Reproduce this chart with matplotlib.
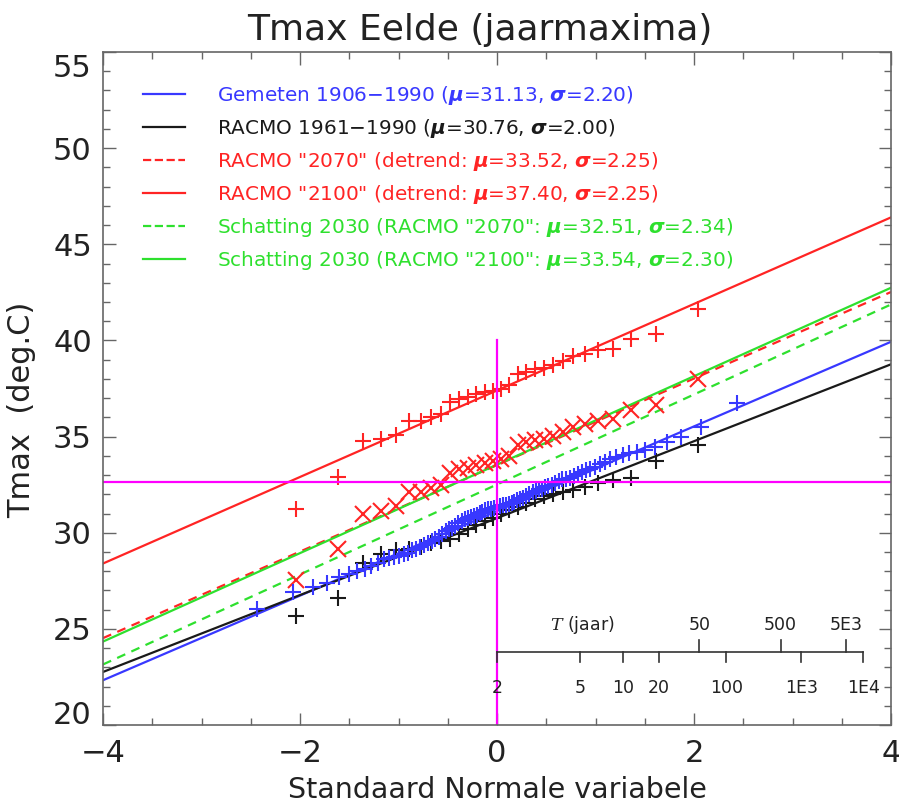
import numpy as np
import matplotlib
matplotlib.use("Agg")
import matplotlib.pyplot as plt
import matplotlib.transforms as mtransforms
from matplotlib.lines import Line2D
from statistics import NormalDist

# jaarmaxima, gesorteerd
gemeten = [26.05, 26.91, 27.19, 27.38, 27.71, 27.85, 27.99, 28.14, 28.28, 28.42,
           28.61, 28.70, 28.75, 28.80, 28.89, 28.94, 29.08, 29.18, 29.27, 29.37,
           29.46, 29.55, 29.65, 29.79, 29.93, 30.08, 30.17, 30.26, 30.36, 30.50,
           30.60, 30.69, 30.78, 30.83, 30.88, 30.93, 31.02, 31.07, 31.16, 31.21,
           31.26, 31.30, 31.35, 31.40, 31.43, 31.45, 31.49, 31.54, 31.59, 31.68,
           31.78, 31.83, 31.92, 32.01, 32.11, 32.16, 32.25, 32.30, 32.39, 32.44,
           32.49, 32.58, 32.68, 32.77, 32.82, 32.87, 32.96, 33.05, 33.15, 33.24,
           33.34, 33.43, 33.58, 33.67, 33.81, 33.95, 34.05, 34.14, 34.19, 34.28,
           34.47, 34.71, 34.99, 35.51, 36.74]
racmo_nu = [25.68, 26.62, 28.42, 28.89, 29.08, 29.18, 29.27, 29.46, 29.55, 29.65,
            29.93, 30.22, 30.41, 30.60, 30.78, 30.97, 31.16, 31.35, 31.54, 31.73,
            31.92, 32.01, 32.11, 32.20, 32.39, 32.58, 32.72, 32.87, 33.72, 34.57]
racmo_2070 = [27.52, 29.18, 30.97, 31.11, 31.40, 32.11, 32.11, 32.35, 32.49, 33.10,
              33.29, 33.39, 33.53, 33.62, 33.72, 33.81, 34.00, 34.57, 34.71, 34.80,
              34.90, 35.04, 35.23, 35.51, 35.66, 35.80, 35.89, 36.36, 36.65, 37.97]
racmo_2100 = [31.26, 32.91, 34.76, 34.85, 35.09, 35.80, 35.80, 36.03, 36.18, 36.79,
              36.98, 37.07, 37.22, 37.31, 37.36, 37.50, 37.69, 38.26, 38.35, 38.49,
              38.59, 38.73, 38.92, 39.20, 39.30, 39.49, 39.58, 40.06, 40.34, 41.66]

# fits (mu, sigma) uit de legenda
namen = ['Gemeten 1906$-$1990 ($\\boldsymbol{\\mu}$=31.13, $\\boldsymbol{\\sigma}$=2.20)',
         'RACMO 1961$-$1990 ($\\boldsymbol{\\mu}$=30.76, $\\boldsymbol{\\sigma}$=2.00)',
         'RACMO "2070" (detrend: $\\boldsymbol{\\mu}$=33.52, $\\boldsymbol{\\sigma}$=2.25)',
         'RACMO "2100" (detrend: $\\boldsymbol{\\mu}$=37.40, $\\boldsymbol{\\sigma}$=2.25)',
         'Schatting 2030 (RACMO "2070": $\\boldsymbol{\\mu}$=32.51, $\\boldsymbol{\\sigma}$=2.34)',
         'Schatting 2030 (RACMO "2100": $\\boldsymbol{\\mu}$=33.54, $\\boldsymbol{\\sigma}$=2.30)']
mu = [31.13, 30.76, 33.52, 37.40, 32.51, 33.54]
sigma = [2.20, 2.00, 2.25, 2.25, 2.34, 2.30]
kleuren = ['#3838ff', '#1a1a1a', '#ff2424', '#ff2424', '#2ee02e', '#2ee02e']
stijlen = ['-', '-', '--', '-', '--', '-']

# terugkeertijden
T_onder = [2, 5, 10, 20, 100, 1000, 10000]
T_onder_lab = ['2', '5', '10', '20', '100', '1E3', '1E4']
T_boven = [50, 500, 5000]
T_boven_lab = ['50', '500', '5E3']

drempel = 32.65
nd = NormalDist()


def blom(n):
    # plotposities (Blom) op standaard normale schaal
    return np.array([nd.inv_cdf((i - 0.375) / (n + 0.25)) for i in range(1, n + 1)])


def z_T(T):
    return nd.inv_cdf(1 - 1 / T)


plt.rcParams['font.family'] = ['DejaVu Sans']
fig = plt.figure(figsize=(8.99, 8.10), dpi=100)
ax = fig.add_axes([0.1146, 0.1049, 0.8765, 0.8309])

xl = np.array([-4, 4])
for m, s, c, ls in zip(mu, sigma, kleuren, stijlen):
    ax.plot(xl, m + s * xl, color=c, ls=ls, lw=1.6, dashes=(4, 3) if ls == '--' else (None, None))

ax.plot(blom(len(racmo_nu)), racmo_nu, '+', color=kleuren[1], ms=12, mew=1.5)
ax.plot(blom(len(racmo_2070)), racmo_2070, 'x', color=kleuren[2], ms=11, mew=1.5)
ax.plot(blom(len(racmo_2100)), racmo_2100, '+', color=kleuren[3], ms=12, mew=1.5)
ax.plot(blom(len(gemeten)), gemeten, '+', color=kleuren[0], ms=12, mew=1.5)

ax.axhline(drempel, color='#ff00ff', lw=1.6)
ax.plot([0, 0], [20, 40.0], color='#ff00ff', lw=1.6)

# as met terugkeertijden
ya = 23.8
ax.plot([z_T(2), z_T(10000)], [ya, ya], color='#333333', lw=1.2)
for T, lab in zip(T_onder, T_onder_lab):
    ax.plot([z_T(T)] * 2, [ya, ya - 0.52], color='#333333', lw=1.2)
    ax.text(z_T(T), ya - 1.9, lab, ha='center', va='center', fontsize=12.5, color='#222222')
for T, lab in zip(T_boven, T_boven_lab):
    ax.plot([z_T(T)] * 2, [ya, ya + 0.6], color='#333333', lw=1.2)
    ax.text(z_T(T), ya + 1.4, lab, ha='center', va='center', fontsize=12.5, color='#222222')
ax.text(0.86, ya + 1.4, '$T$ (jaar)', ha='center', va='center', fontsize=12.5,
        color='#222222', math_fontfamily='dejavuserif')

ax.set_xlim(-4, 4)
ax.set_ylim(20, 55)
ax.set_xticks([-4, -2, 0, 2, 4])
ax.set_xticklabels(['\u22124', '\u22122', '0', '2', '4'])
ax.set_xticks(np.arange(-4, 4.01, 0.5), minor=True)
ax.set_yticks(np.arange(20, 56, 5))
ax.set_yticks(np.arange(20, 55.5, 1), minor=True)
ax.tick_params(which='both', direction='in', top=True, right=True, color='#666666',
               labelsize=22, labelcolor='#222222')
ax.tick_params(which='major', length=9, width=1)
ax.tick_params(which='minor', length=5, width=1)
ax.tick_params(axis='x', pad=10)
ax.tick_params(axis='y', pad=8)
for sp in ax.spines.values():
    sp.set_color('#666666')
    sp.set_linewidth(1.2)

# labels 20 en 55 naar binnen schuiven, zoals in het origineel
ylabs = ax.get_yticklabels()
ylabs[0].set_transform(ylabs[0].get_transform() + mtransforms.ScaledTranslation(0, 13 / 100, fig.dpi_scale_trans))
ylabs[-1].set_transform(ylabs[-1].get_transform() + mtransforms.ScaledTranslation(0, -13 / 100, fig.dpi_scale_trans))

ax.set_xlabel('Standaard Normale variabele', fontsize=20.5, color='#222222', labelpad=6)
ax.set_ylabel('Tmax  (deg.C)', fontsize=22, color='#222222')
ax.yaxis.set_label_coords(-0.085, 0.468)
fig.text(0.534, 0.963, 'Tmax Eelde (jaarmaxima)', ha='center', va='center',
         fontsize=26, color='#222222')

handles = [Line2D([], [], color=c, ls=ls, lw=1.6) for c, ls in zip(kleuren, stijlen)]
ax.legend(handles, namen, loc='upper left', bbox_to_anchor=(0.159, 0.896),
          bbox_transform=fig.transFigure, frameon=False, fontsize=14.4,
          labelcolor='linecolor', handlelength=2.1, handletextpad=1.6,
          labelspacing=0.5, borderpad=0, borderaxespad=0)

fig.savefig('out.png', dpi=100)
